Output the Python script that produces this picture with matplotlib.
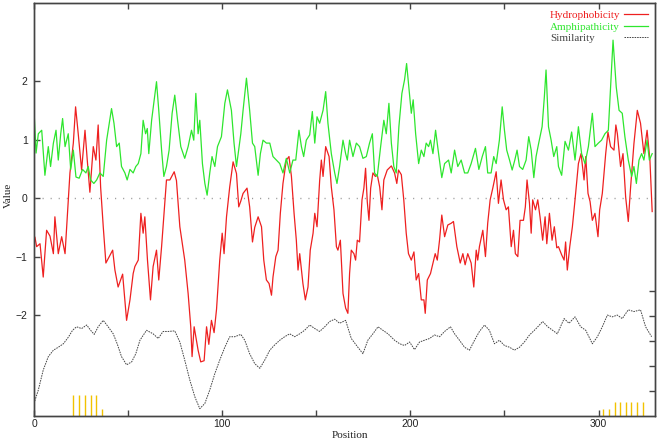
import matplotlib
matplotlib.use("Agg")
import matplotlib.pyplot as plt
from matplotlib.ticker import FixedLocator

# Hydrophobicity (red)
hyd_pos = [0.5, 1.4, 3.2, 4.9, 6.7, 8.5, 10.3, 11.1, 12.9, 14.7, 16.5, 18.2, 19.1, 20.9, 22.1,
           23.5, 25.3, 27.1, 28.3, 29.7, 31.5, 32.9, 34.1, 35.4, 36.8, 38.2, 40.0, 41.8, 43.0,
           44.7, 47.1, 49.2, 51.0, 52.7, 53.6, 55.4, 56.8, 58.0, 58.9, 60.3, 61.9, 63.3, 65.1,
           66.3, 67.8, 70.4, 72.2, 74.5, 75.7, 77.5, 80.1, 81.9, 83.3, 84.0, 85.1, 87.2, 88.6,
           90.4, 91.7, 92.9, 94.3, 95.7, 97.0, 98.7, 100.0, 101.0, 102.3, 104.0, 105.8, 107.6,
           108.8, 109.9, 111.1, 113.2, 114.6, 116.1, 117.3, 119.1, 120.9, 122.1, 123.5, 124.9,
           126.2, 127.0, 128.5, 129.7, 130.9, 132.3, 134.1, 135.5, 136.8, 138.2, 139.4, 140.3,
           141.2, 142.9, 144.2, 145.6, 146.8, 148.3, 149.2, 150.4, 151.8, 152.7, 153.6, 155.0,
           156.8, 158.0, 159.4, 160.7, 161.5, 162.8, 164.2, 165.6, 166.8, 167.7, 168.6, 170.0,
           170.9, 171.8, 173.0, 174.3, 175.3, 176.2, 177.1, 178.0, 178.9, 180.1, 181.4, 182.4,
           183.7, 184.9, 185.9, 187.7, 189.9, 191.6, 192.8, 193.7, 195.2, 196.5, 197.8, 199.0,
           200.5, 201.9, 203.1, 204.4, 205.8, 207.2, 207.9, 209.0, 210.7, 212.0, 213.2, 214.3,
           215.5, 216.7, 218.2, 219.9, 221.7, 222.9, 224.7, 226.5, 227.9, 229.1, 230.5, 232.3,
           233.7, 235.0, 235.8, 236.7, 238.5, 239.9, 241.1, 242.4, 243.8, 245.6, 246.8, 248.2,
           249.5, 250.9, 252.1, 253.6, 254.8, 255.8, 257.1, 258.3, 260.1, 261.1, 262.0, 263.3,
           264.2, 265.0, 266.5, 267.7, 268.9, 270.3, 271.6, 272.5, 273.9, 275.3, 276.5, 277.8,
           278.7, 280.4, 281.7, 282.5, 283.4, 284.7, 286.1, 287.5, 289.3, 290.7, 292.3, 293.2,
           294.4, 295.5, 296.7, 298.1, 299.7, 300.6, 302.0, 303.8, 305.0, 306.4, 308.2, 309.2,
           310.0, 311.7, 313.0, 314.4, 315.8, 317.0, 318.8, 320.6, 322.3, 324.1, 325.8, 327.3,
           328.5]
hyd_val = [-0.67, -0.83, -0.78, -1.35, -0.55, -0.65, -0.95, -0.32, -0.95, -0.66, -0.95, -0.03,
           0.43, 0.94, 1.56, 1.10, 0.48, 1.16, 0.65, 0.10, 0.88, 0.65, 1.25, 0.19, -0.49, -1.11,
           -1.00, -0.89, -1.23, -1.52, -1.30, -2.09, -1.74, -1.29, -1.17, -1.06, -0.26, -0.60,
           -0.32, -1.06, -1.74, -1.17, -0.89, -1.40, -0.83, 0.31, 0.31, 0.45, 0.30, -0.49, -1.06,
           -1.63, -2.20, -2.71, -2.20, -2.60, -2.80, -2.78, -2.20, -2.50, -2.09, -2.30, -1.90,
           -1.06, -0.60, -0.95, -0.32, 0.19, 0.62, 0.42, -0.15, -0.05, 0.08, 0.17, -0.15, -0.75,
           -0.50, -0.32, -0.49, -1.06, -1.40, -1.46, -1.66, -1.35, -1.00, -0.89, -0.26, 0.25,
           0.65, 0.71, 0.37, -0.26, -0.72, -1.23, -0.95, -1.46, -1.74, -1.52, -0.89, -0.60, -0.26,
           -0.49, 0.30, 0.65, 0.37, 0.88, 0.71, 0.19, -0.20, -0.83, -0.89, -0.72, -1.63, -1.88,
           -1.97, -1.29, -0.89, -0.95, -1.06, -0.72, -0.75, -0.03, 0.17, 0.51, -0.06, -0.38, 0.17,
           0.43, 0.37, 0.40, 0.19, -0.20, 0.31, 0.48, 0.55, 0.43, 0.25, 0.48, 0.40, -0.03, -0.60,
           -0.95, -1.06, -0.92, -1.40, -1.29, -1.74, -1.74, -1.97, -1.40, -1.29, -1.11, -0.95,
           -1.06, -0.72, -0.29, -0.66, -0.46, -0.43, -0.40, -0.83, -1.11, -0.95, -1.14, -0.95,
           -1.11, -1.52, -0.89, -1.06, -0.83, -0.55, -1.00, -0.43, -0.03, 0.17, 0.45, -0.09, 0.31,
           -0.03, -0.20, -0.15, -0.83, -0.55, -0.95, -1.00, -0.38, -0.38, -0.15, 0.31, -0.09,
           -0.60, -0.03, -0.20, -0.03, -0.32, -0.72, -0.32, -0.78, -0.26, -0.72, -0.49, -0.85,
           -0.83, -0.97, -1.06, -0.75, -1.23, -0.83, -0.49, -0.03, 0.59, 0.76, 0.31, 0.71, 0.08,
           -0.06, -0.38, -0.26, -0.66, -0.20, 0.08, 0.76, 1.13, 0.88, 0.82, 1.25, 1.10, 0.54, 0.76,
           0.02, -0.40, 0.17, 0.93, 1.50, 1.28, 0.76, 1.16, 0.65, -0.23]

# Amphipathicity (green)
amp_pos = [0.0, 1.1, 2.3, 4.1, 5.8, 7.6, 8.8, 10.3, 11.7, 12.9, 14.2, 15.2, 16.5, 18.2, 19.5,
           20.9, 22.3, 24.0, 25.8, 27.6, 28.8, 30.1, 31.8, 33.3, 35.0, 36.8, 38.6, 40.0, 41.2,
           42.5, 43.9, 45.3, 46.5, 48.3, 49.5, 51.0, 52.7, 54.1, 55.4, 56.8, 58.0, 59.3, 60.2,
           61.0, 62.5, 63.9, 65.1, 66.3, 67.8, 69.0, 70.4, 71.8, 73.4, 74.8, 76.3, 78.0, 80.1,
           81.9, 83.7, 84.9, 86.0, 87.2, 88.1, 89.5, 90.8, 92.0, 93.4, 94.6, 96.1, 97.5, 99.6,
           101.4, 102.8, 104.9, 106.3, 107.6, 109.9, 111.1, 112.9, 114.6, 116.1, 117.3, 119.1,
           120.3, 121.7, 123.5, 125.3, 127.0, 128.8, 130.6, 132.3, 134.1, 135.9, 137.6, 139.1,
           140.8, 142.1, 143.3, 144.7, 146.5, 147.9, 149.2, 150.4, 151.8, 153.6, 155.0, 156.2,
           158.0, 159.8, 161.0, 162.4, 164.2, 165.6, 166.5, 167.7, 169.5, 171.3, 173.0, 174.8,
           176.6, 178.3, 179.8, 181.0, 182.4, 184.2, 185.9, 187.2, 188.6, 189.9, 191.2, 192.5,
           193.9, 195.5, 196.9, 198.0, 199.2, 200.5, 201.5, 202.8, 204.4, 205.8, 207.2, 208.4,
           209.7, 210.7, 212.0, 213.4, 215.0, 216.7, 218.2, 220.3, 221.7, 223.5, 225.2, 227.0,
           228.8, 230.5, 232.3, 234.6, 236.4, 238.2, 239.9, 241.1, 242.9, 244.3, 245.6, 247.3,
           248.8, 250.0, 251.2, 252.7, 254.1, 255.5, 256.7, 258.0, 259.7, 261.5, 262.9, 264.2,
           265.6, 266.8, 268.2, 270.0, 271.2, 272.1, 273.4, 274.8, 276.2, 277.8, 278.7, 280.4,
           282.2, 284.0, 285.7, 287.5, 289.3, 291.0, 292.8, 294.6, 296.7, 298.1, 299.9, 301.6,
           303.4, 305.2, 306.4, 307.7, 309.4, 310.9, 312.6, 314.0, 315.8, 317.6, 318.8, 320.1,
           321.5, 322.9, 324.1, 325.8, 327.0, 328.5]
amp_val = [1.50, 0.77, 1.10, 1.16, 0.39, 0.88, 0.54, 0.94, 1.16, 0.65, 1.10, 1.36, 0.88, 1.10,
           0.49, 0.82, 0.36, 0.34, 0.49, 0.43, 0.54, 0.31, 0.25, 0.31, 0.43, 0.37, 0.99, 1.28,
           1.53, 1.28, 0.88, 0.94, 0.54, 0.43, 0.31, 0.49, 0.43, 0.54, 0.59, 0.76, 1.33, 1.10,
           1.19, 0.76, 1.33, 1.68, 1.99, 1.50, 0.82, 0.37, 0.54, 0.82, 1.45, 1.76, 1.33, 0.88,
           0.68, 0.88, 1.16, 0.99, 1.79, 1.10, 1.33, 0.59, 0.25, 0.05, 0.43, 0.71, 0.54, 0.88,
           1.05, 1.62, 1.85, 1.50, 0.94, 0.54, 1.10, 1.50, 2.05, 1.50, 0.94, 0.88, 0.39, 0.76,
           0.99, 0.94, 0.94, 0.71, 0.65, 0.59, 0.43, 0.68, 0.43, 0.65, 0.65, 1.16, 0.88, 0.71,
           0.99, 1.08, 1.48, 0.94, 1.39, 1.28, 1.50, 1.82, 1.28, 0.76, 0.43, 0.25, 0.54, 0.99,
           0.76, 0.65, 0.99, 0.71, 0.94, 0.88, 0.68, 0.71, 0.94, 1.10, 0.43, 0.37, 0.88, 1.33,
           1.10, 1.62, 0.94, 0.54, 0.43, 1.22, 1.79, 2.02, 2.30, 1.90, 1.45, 1.68, 1.10, 0.59,
           0.82, 0.71, 0.94, 0.88, 0.99, 0.76, 1.16, 0.76, 0.35, 0.59, 0.65, 0.43, 0.82, 0.54,
           0.65, 0.43, 0.43, 0.59, 0.85, 0.49, 0.71, 0.88, 0.43, 0.43, 0.71, 0.59, 0.99, 1.56,
           1.16, 0.82, 0.65, 0.48, 0.65, 0.82, 0.54, 0.49, 0.65, 1.05, 0.82, 0.35, 0.71, 0.94,
           1.22, 1.73, 2.19, 1.22, 0.99, 0.71, 0.88, 0.54, 0.39, 0.97, 0.82, 1.13, 0.65, 1.22,
           0.76, 0.59, 0.88, 1.45, 0.88, 0.94, 0.99, 1.10, 1.16, 1.90, 2.70, 1.90, 1.50, 1.45,
           1.05, 0.65, 0.37, 0.54, 0.25, 0.65, 0.76, 0.65, 0.99, 0.65, 0.76]

# Similarity (dashed)
sim_pos = [0.0, 2.3, 4.9, 7.6, 10.3, 12.9, 15.6, 18.2, 20.5, 22.6, 25.3, 28.0, 30.1, 32.0, 34.1,
           36.8, 39.4, 42.1, 44.2, 46.5, 49.2, 51.9, 54.1, 56.3, 59.8, 63.3, 66.0, 68.6, 71.3,
           74.8, 77.5, 80.1, 82.8, 85.5, 88.1, 90.8, 93.4, 96.1, 98.7, 101.4, 104.0, 106.7,
           109.9, 112.0, 114.6, 117.3, 120.0, 122.6, 125.3, 127.9, 130.6, 133.2, 135.9, 138.5,
           141.2, 143.8, 146.5, 149.2, 151.8, 154.5, 157.1, 159.8, 162.4, 165.6, 168.6, 172.1,
           174.8, 177.4, 180.1, 182.8, 185.4, 188.1, 191.6, 194.3, 196.9, 199.6, 202.2, 204.9,
           207.5, 210.2, 212.8, 215.5, 218.2, 221.3, 223.5, 226.1, 228.8, 231.4, 234.1, 236.7,
           239.4, 242.0, 244.7, 247.3, 250.0, 252.7, 255.3, 258.0, 260.6, 263.3, 265.9, 268.6,
           270.3, 273.0, 275.6, 278.1, 281.7, 284.3, 287.5, 290.5, 293.2, 296.7, 299.4, 302.0,
           304.7, 307.3, 310.0, 312.6, 315.8, 318.8, 322.3, 325.0, 328.2]
sim_val = [-3.51, -3.28, -2.94, -2.71, -2.60, -2.55, -2.49, -2.38, -2.26, -2.20, -2.23, -2.17,
           -2.26, -2.33, -2.20, -2.09, -2.20, -2.32, -2.49, -2.71, -2.85, -2.80, -2.66, -2.43,
           -2.26, -2.32, -2.40, -2.28, -2.28, -2.27, -2.46, -2.77, -3.11, -3.40, -3.60, -3.51,
           -3.28, -3.00, -2.77, -2.55, -2.37, -2.37, -2.33, -2.43, -2.66, -2.83, -2.91, -2.77,
           -2.60, -2.51, -2.43, -2.37, -2.32, -2.37, -2.32, -2.26, -2.17, -2.23, -2.28, -2.20,
           -2.11, -2.07, -2.14, -2.09, -2.40, -2.55, -2.66, -2.43, -2.32, -2.20, -2.26, -2.32,
           -2.43, -2.49, -2.52, -2.46, -2.59, -2.46, -2.43, -2.40, -2.34, -2.37, -2.28, -2.20,
           -2.32, -2.43, -2.55, -2.60, -2.43, -2.28, -2.17, -2.26, -2.49, -2.43, -2.52, -2.55,
           -2.60, -2.55, -2.46, -2.34, -2.26, -2.17, -2.11, -2.20, -2.26, -2.32, -2.06, -2.14,
           -2.03, -2.20, -2.26, -2.49, -2.37, -2.20, -2.00, -2.03, -2.00, -2.06, -1.91, -1.94,
           -1.91, -2.20, -2.37]

# yellow marks along the bottom
mark_pos = [20.5, 23.9, 27.1, 30.1, 33.1, 36.1,
            302.5, 305.5, 308.5, 311.5, 314.5, 317.5, 320.5, 323.5]
mark_height = [0.35, 0.35, 0.35, 0.35, 0.35, 0.11,
               0.11, 0.11, 0.24, 0.24, 0.24, 0.24, 0.24, 0.24]

x_ticks = [0, 100, 200, 300]
x_minor = [50, 150, 250]
y_ticks = [-2, -1, 0, 1, 2]
right_ticks = [-1.59, -2.02, -2.44, -2.87, -3.30]

ymin, ymax = -3.72, 3.33
xmin, xmax = 0, 330

serif = "Liberation Serif"
sans = "Liberation Sans"

fig = plt.figure(figsize=(6.61, 4.42), dpi=100)
ax = fig.add_axes([34 / 661, 1 - 415.7 / 442, 621 / 661, 412.4 / 442])

ax.axhline(0, color="#999999", lw=1.0, linestyle=(0, (0.8, 5)))
ax.plot(hyd_pos, hyd_val, color="#ee2020", lw=0.9, label="Hydrophobicity")
ax.plot(amp_pos, amp_val, color="#2ee62e", lw=0.9, label="Amphipathicity")
ax.plot(sim_pos, sim_val, color="#444444", lw=0.7, linestyle=(0, (1.6, 1)), label="Similarity")
ax.vlines(mark_pos, ymin, [ymin + h for h in mark_height], color="#f2c200", lw=1.0)

ax.set_xlim(xmin, xmax)
ax.set_ylim(ymin, ymax)

ax.xaxis.set_major_locator(FixedLocator(x_ticks))
ax.xaxis.set_minor_locator(FixedLocator(x_minor))
ax.set_yticks(y_ticks)
ax.tick_params(axis="both", which="both", direction="in", length=4, width=1,
               color="#444444", top=True, right=False, labelsize=7.5)
ax.tick_params(axis="x", pad=2.5)
ax.tick_params(axis="y", pad=4.5)
for lab in ax.get_xticklabels() + ax.get_yticklabels():
    lab.set_family(sans)
    lab.set_color("#222222")

ax2 = ax.twinx()
ax2.set_ylim(ymin, ymax)
ax2.set_yticks(right_ticks)
ax2.set_yticklabels([])
ax2.tick_params(axis="y", direction="in", length=4, width=1, color="#444444")
for a in (ax, ax2):
    for s in a.spines.values():
        s.set_color("#444444")
        s.set_linewidth(1.0)

leg = ax.legend(loc="upper right", frameon=False, markerfirst=False,
                labelcolor="linecolor", handlelength=2.1, handletextpad=0.5,
                labelspacing=0.15, borderaxespad=0.45, borderpad=0.2,
                prop={"family": serif, "size": 8})
# text left aligned, keys lined up on the right (gnuplot style key)
for col in leg._legend_handle_box.get_children():
    col.width = 98
    for item in col.get_children():
        item.mode = "expand"

fig.text(8 / 661, 1 - 195 / 442, "Value", rotation=90, ha="center", va="center",
         family=serif, size=8, color="#222222")
fig.text(350 / 661, 1 - 436 / 442, "Position", ha="center", va="center",
         family=serif, size=8, color="#222222")

fig.savefig("out.png", dpi=100)
